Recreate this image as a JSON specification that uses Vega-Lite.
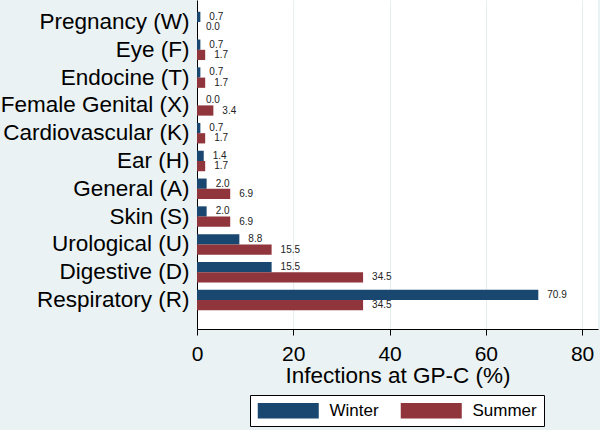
{
  "$schema": "https://vega.github.io/schema/vega-lite/v6.json",
  "autosize": {"type": "none"},
  "width": 401,
  "height": 329,
  "padding": {"left": 197, "top": 0, "right": 2, "bottom": 101},
  "background": "#EAF2F3",
  "config": {
    "view": {"fill": "white", "stroke": null},
    "font": "Liberation Sans"
  },
  "data": {
    "values": [
      {"category": "Pregnancy (W)", "season": "Winter", "pct": 0.7},
      {"category": "Pregnancy (W)", "season": "Summer", "pct": 0.0},
      {"category": "Eye (F)", "season": "Winter", "pct": 0.7},
      {"category": "Eye (F)", "season": "Summer", "pct": 1.7},
      {"category": "Endocine (T)", "season": "Winter", "pct": 0.7},
      {"category": "Endocine (T)", "season": "Summer", "pct": 1.7},
      {"category": "Female Genital (X)", "season": "Winter", "pct": 0.0},
      {"category": "Female Genital (X)", "season": "Summer", "pct": 3.4},
      {"category": "Cardiovascular (K)", "season": "Winter", "pct": 0.7},
      {"category": "Cardiovascular (K)", "season": "Summer", "pct": 1.7},
      {"category": "Ear (H)", "season": "Winter", "pct": 1.4},
      {"category": "Ear (H)", "season": "Summer", "pct": 1.7},
      {"category": "General (A)", "season": "Winter", "pct": 2.0},
      {"category": "General (A)", "season": "Summer", "pct": 6.9},
      {"category": "Skin (S)", "season": "Winter", "pct": 2.0},
      {"category": "Skin (S)", "season": "Summer", "pct": 6.9},
      {"category": "Urological (U)", "season": "Winter", "pct": 8.8},
      {"category": "Urological (U)", "season": "Summer", "pct": 15.5},
      {"category": "Digestive (D)", "season": "Winter", "pct": 15.5},
      {"category": "Digestive (D)", "season": "Summer", "pct": 34.5},
      {"category": "Respiratory (R)", "season": "Winter", "pct": 70.9},
      {"category": "Respiratory (R)", "season": "Summer", "pct": 34.5}
    ]
  },
  "encoding": {
    "y": {
      "field": "category",
      "type": "nominal",
      "sort": null,
      "scale": {"paddingInner": 0.263, "paddingOuter": 0.549, "align": 0.385},
      "axis": {
        "title": null,
        "labelFontSize": 22.5,
        "labelColor": "black",
        "labelPadding": 8,
        "ticks": false,
        "domainColor": "black",
        "domainWidth": 1,
        "grid": false,
        "labelLimit": 300
      }
    },
    "yOffset": {
      "field": "season",
      "type": "nominal",
      "sort": ["Winter", "Summer"],
      "scale": {"paddingInner": 0, "paddingOuter": 0}
    },
    "x": {
      "field": "pct",
      "type": "quantitative",
      "scale": {"domain": [0, 83.3], "nice": false, "zero": true},
      "axis": {
        "title": "Infections at GP-C (%)",
        "titleFontSize": 22.5,
        "titleFontWeight": "normal",
        "titleColor": "black",
        "titlePadding": 0,
        "values": [0, 20, 40, 60, 80],
        "labelFontSize": 21,
        "labelColor": "black",
        "labelPadding": 8,
        "tickSize": 6,
        "tickColor": "black",
        "domainColor": "black",
        "grid": true,
        "gridColor": "#E6EEF0",
        "labelFlush": false
      }
    }
  },
  "layer": [
    {
      "mark": {"type": "bar", "strokeWidth": 0},
      "encoding": {
        "color": {
          "field": "season",
          "type": "nominal",
          "sort": ["Winter", "Summer"],
          "scale": {"domain": ["Winter", "Summer"], "range": ["#1a476f", "#90353b"]},
          "legend": {
            "title": null,
            "orient": "none",
            "legendX": 53,
            "legendY": 395,
            "direction": "horizontal",
            "symbolType": "M-1,-1H6.871V1H-1Z",
            "symbolSize": 240.25,
            "symbolStrokeWidth": 0,
            "symbolOpacity": 1,
            "labelFontSize": 17,
            "labelColor": "black",
            "labelOffset": 55.5,
            "columnPadding": 21,
            "padding": 7,
            "strokeColor": "black",
            "fillColor": "white",
            "labelLimit": 200
          }
        }
      }
    },
    {
      "mark": {"type": "text", "align": "left", "baseline": "middle", "dx": 9, "fontSize": 10, "color": "#222222"},
      "encoding": {
        "text": {"field": "pct", "type": "quantitative", "format": ".1f"}
      }
    }
  ]
}
